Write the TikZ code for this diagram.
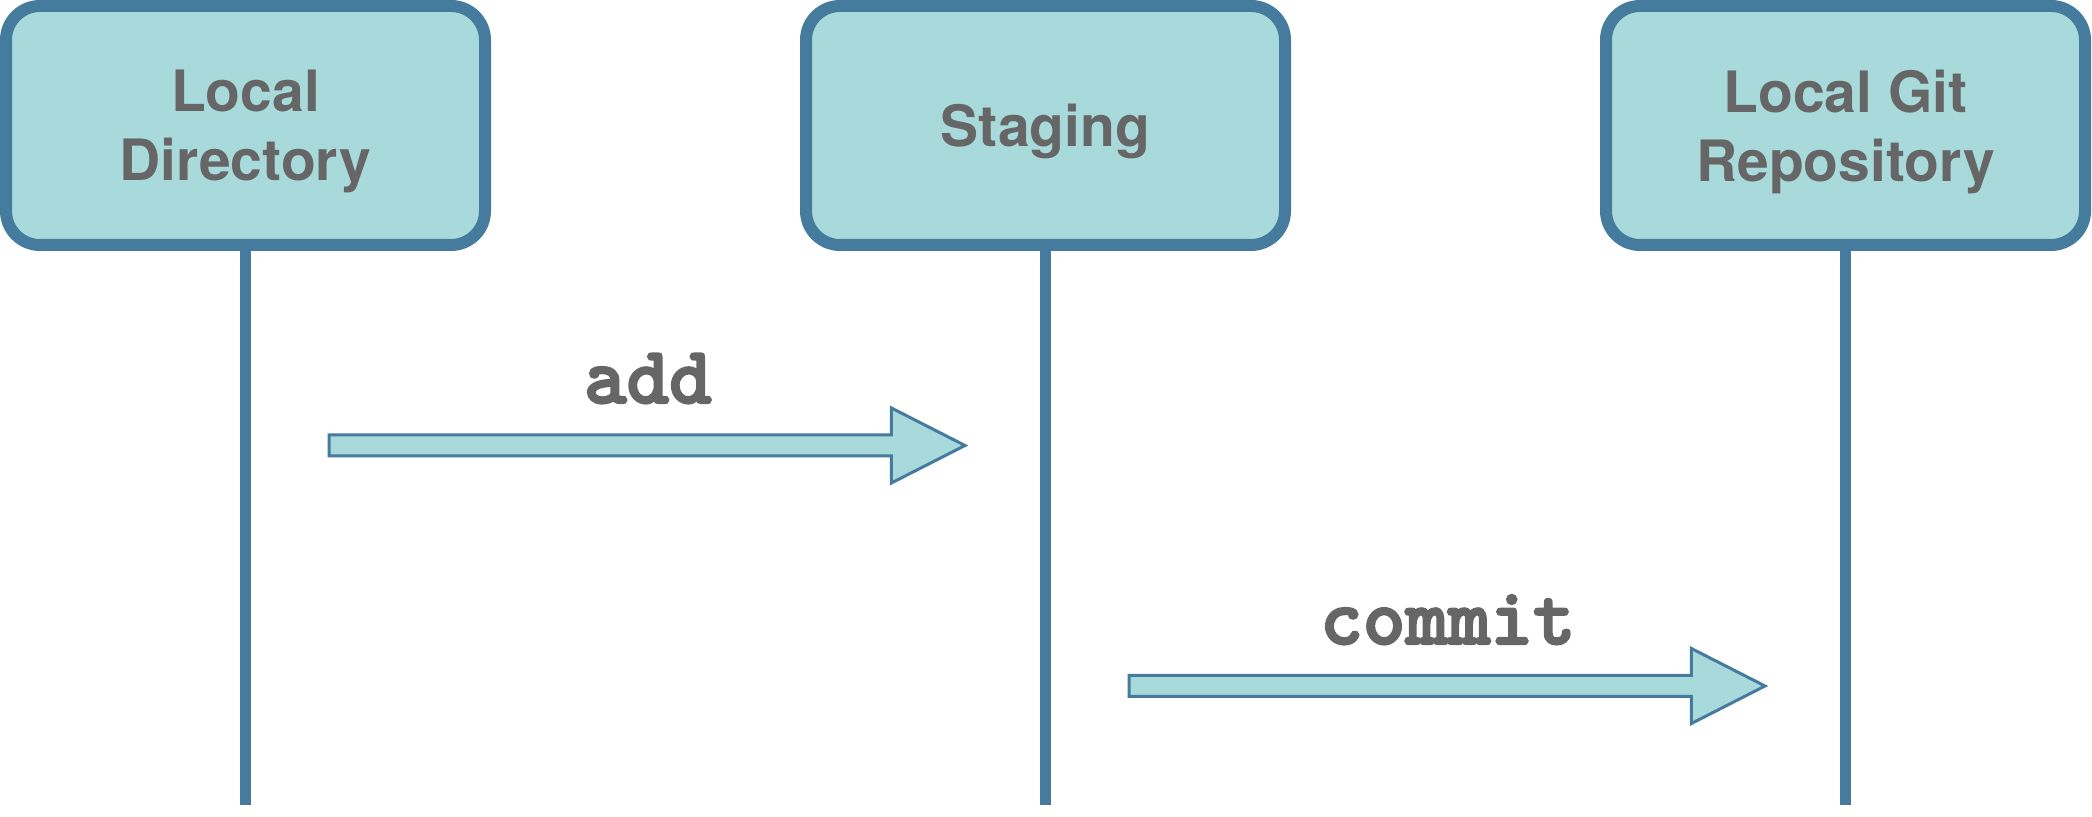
\documentclass[tikz,border=0pt]{standalone}
\usepackage{fontspec}
\setsansfont{TeX Gyre Heros}
\newfontfamily\cmdfont[FakeBold=2.7]{lmmonolt10-bold.otf}
\usetikzlibrary{shapes.arrows,calc}
\definecolor{gitline}{HTML}{457B9D}
\definecolor{gitfill}{HTML}{A8DADC}
\definecolor{gittext}{HTML}{666666}

\begin{document}
\begin{tikzpicture}[x=1pt,y=1pt,
		area/.style={draw=gitline, fill=gitfill, line width=12pt, rounded corners=34pt,
			minimum width=479pt, minimum height=239pt, align=center, text=gittext,
			text depth=0pt, font=\fontsize{57}{69}\selectfont\sffamily\bfseries},
		life/.style={draw=gitline, line width=11pt},
		cmdarrow/.style={single arrow, draw=gitline, fill=gitfill, line width=3pt,
			minimum height=636pt, inner xsep=0pt, inner ysep=9pt, anchor=tail,
			single arrow head extend=27pt, single arrow tip angle=54},
		cmd/.style={anchor=base, text=gittext, font=\fontsize{81}{81}\selectfont\cmdfont}]
	\useasboundingbox (0,0) rectangle (2092,816);
	
	% Lifelines
	\foreach \x/\n in {245.5/dir,1045.5/stage,1845.5/repo}{
		\coordinate (\n-top) at (\x,690.5);
		\coordinate (\n-end) at (\x,11);
		\draw[life] (\n-top) -- (\n-end);
	}
	
	% Areas
	\node[area] (dir) at (dir-top) {Local\\Directory};
	\node[area] (stage) at (stage-top) {Staging};
	\node[area] (repo) at (repo-top) {Local Git\\Repository};
	
	% Commands
	\node[cmdarrow] (addarrow) at ($(dir)!0.5!(stage)+(-318,-320)$) {};
	\node[cmd] (addlbl) at ($(addarrow.tail)!0.5!(addarrow.tip)+(0,42.5)$) {add};
	
	\node[cmdarrow] (commitarrow) at ($(stage)!0.5!(repo)+(-318,-560.5)$) {};
	\node[cmd] (commitlbl) at ($(commitarrow.tail)!0.5!(commitarrow.tip)+(0,42)$) {commit};
\end{tikzpicture}
\end{document}
